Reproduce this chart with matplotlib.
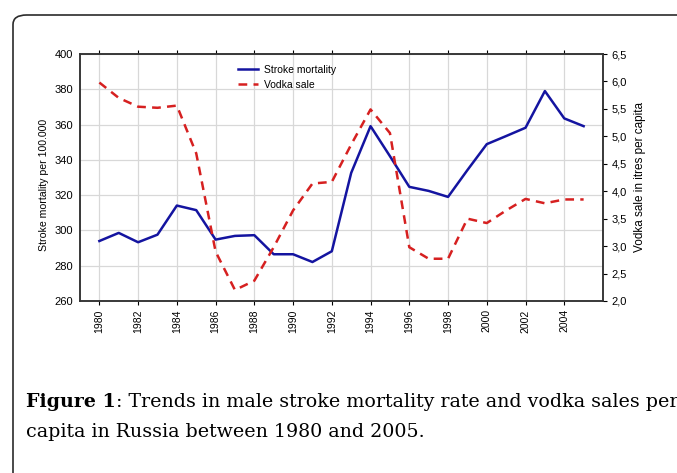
import numpy as np
import matplotlib.pyplot as plt
from matplotlib.patches import FancyBboxPatch
from matplotlib.ticker import FuncFormatter

years = list(range(1980, 2006))
stroke = [294.0, 298.6, 293.3, 297.6, 314.1, 311.5, 294.8, 296.9, 297.3, 286.5,
          286.5, 282.1, 288.2, 332.6, 359.1, 342.1, 324.7, 322.4, 319.0, 334.2,
          348.9, 353.5, 358.2, 379.0, 363.5, 359.1]
vodka = [5.98, 5.70, 5.54, 5.52, 5.56, 4.69, 2.90, 2.20, 2.37, 2.98,
         3.65, 4.14, 4.17, 4.85, 5.49, 5.06, 2.98, 2.77, 2.77, 3.50,
         3.42, 3.65, 3.86, 3.78, 3.85, 3.85]
year_ticks = list(range(1980, 2006, 2))
caption_bold = 'Figure 1'
caption_rest = ': Trends in male stroke mortality rate and vodka sales per'
caption_line2 = 'capita in Russia between 1980 and 2005.'

narrow = ['Liberation Sans Narrow', 'Liberation Sans', 'DejaVu Sans']
sans = ['Liberation Sans', 'DejaVu Sans']
serif = ['DejaVu Serif']

fig = plt.figure(figsize=(6.77, 4.73), dpi=100)

# rounded frame around the figure block
frame = FancyBboxPatch((13 / 677, -0.1), 1.2, 0.1 + (473 - 15) / 473,
                       boxstyle='round,pad=0,rounding_size=0.02',
                       transform=fig.transFigure, fill=False,
                       edgecolor='#2b2b2b', linewidth=1.2, clip_on=False)
fig.patches.append(frame)

ax = fig.add_axes([80 / 677, 1 - 301 / 473, (603 - 80) / 677, (301 - 54) / 473])
ax2 = ax.twinx()

ax.plot(years, stroke, color='#1414a0', lw=1.8, label='Stroke mortality', zorder=3)
ax2.plot(years, vodka, color='#d62020', lw=1.8, ls=(0, (3.5, 2.5)), label='Vodka sale')

ax.set_xlim(1979, 2006)
ax.set_ylim(260, 400)
ax.set_yticks(np.arange(260, 401, 20))
ax.set_xticks(year_ticks)
ax.set_xticklabels([str(y) for y in year_ticks], rotation=90, family=sans, fontsize=7.5)
ax.grid(True, color='#d8d8d8', lw=0.9)
ax.set_axisbelow(True)
ax.tick_params(axis='y', length=0, labelsize=8, pad=5)
ax.tick_params(axis='x', length=3, direction='out', pad=3, top=True)
for lab in ax.get_yticklabels():
    lab.set_family(narrow)

ax2.set_ylim(2.0, 6.5)
ax2.set_yticks(np.arange(2.0, 6.51, 0.5))
ax2.yaxis.set_major_formatter(FuncFormatter(lambda v, p: f'{v:.1f}'.replace('.', ',')))
ax2.tick_params(axis='y', length=3, direction='out', labelsize=8, pad=3)
for lab in ax2.get_yticklabels():
    lab.set_family(narrow)

for a in (ax, ax2):
    for s in a.spines.values():
        s.set_color('#333333')
        s.set_linewidth(1.1)

ax.set_ylabel('Stroke mortality per 100.000', family=narrow, fontsize=7.6)
ax.yaxis.set_label_coords(-0.06, 0.47)
ax2.set_ylabel('Vodka sale in itres per capita', family=narrow, fontsize=8.5, labelpad=5)

h1, l1 = ax.get_legend_handles_labels()
h2, l2 = ax2.get_legend_handles_labels()
ax2.legend(h1 + h2, l1 + l2, loc='upper left', bbox_to_anchor=(0.285, 0.995),
           frameon=False, handlelength=1.9, handletextpad=0.6, labelspacing=0.5,
           prop={'family': narrow, 'size': 7.5})

# caption: bold lead-in, then the rest placed right after it;
# font size chosen so the first line runs from x=26 to x=675 px
renderer = fig.canvas.get_renderer()


def caption_width(size):
    a = fig.text(0, 0, caption_bold, family=serif, fontsize=size, fontweight='bold')
    b = fig.text(0, 0, caption_rest, family=serif, fontsize=size)
    w = a.get_window_extent(renderer).width + b.get_window_extent(renderer).width
    a.remove()
    b.remove()
    return w


size = 13.0
size *= 649 / caption_width(size)

y1 = 1 - 407 / 473
y2 = 1 - 437 / 473
t1 = fig.text(26 / 677, y1, caption_bold, family=serif, fontsize=size,
              fontweight='bold', va='baseline')
bb = t1.get_window_extent(renderer)
fig.text(bb.x1 / fig.bbox.width, y1, caption_rest, family=serif, fontsize=size, va='baseline')
fig.text(26 / 677, y2, caption_line2, family=serif, fontsize=size, va='baseline')

fig.savefig('out.png', dpi=100)
